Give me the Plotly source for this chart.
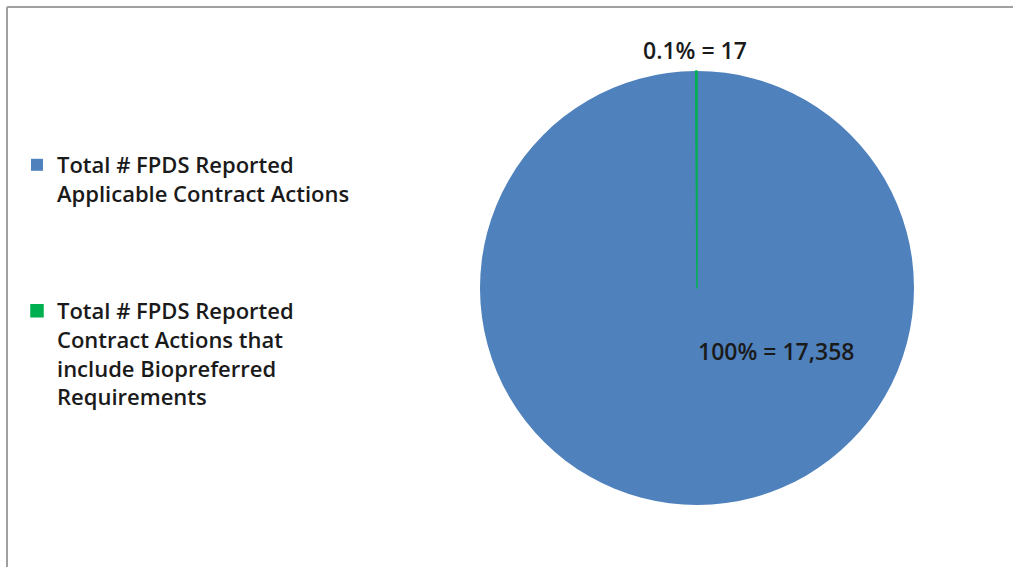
import plotly.graph_objects as go

labels = [
    "Total # FPDS Reported<br>Applicable Contract Actions",
    "Total # FPDS Reported<br>Contract Actions that<br>include Biopreferred<br>Requirements",
]
values = [17358, 17]
colors = ["#4F81BD", "#00B050"]
pct_decimals = [0, 1]

W, H = 1013, 567
FONT = "Open Sans"
TXT = "#1a1a1a"

total = sum(values)
label_texts = [
    f"{v / total * 100:.{d}f}% = {v:,}" for v, d in zip(values, pct_decimals)
]

# legend labels with trailing spacing lines for the first item
legend_labels = [labels[0] + "<br> <br> <br> ", labels[1]]

cx, cy, r = 697, 288, 217

fig = go.Figure(
    go.Pie(
        labels=legend_labels,
        values=values,
        sort=False,
        direction="clockwise",
        rotation=0,
        marker=dict(colors=colors, line=dict(color=colors, width=[0, 1.5])),
        textinfo="none",
        hoverinfo="label+value+percent",
        domain=dict(x=[(cx - r) / W, (cx + r) / W], y=[1 - (cy + r) / H, 1 - (cy - r) / H]),
    )
)

fig.add_annotation(
    x=776 / W, y=1 - 351 / H, xref="paper", yref="paper",
    xanchor="center", yanchor="middle",
    text=label_texts[0], showarrow=False,
    font=dict(family=FONT, size=23, color=TXT, weight=600),
)
fig.add_annotation(
    x=695 / W, y=1 - 50 / H, xref="paper", yref="paper",
    xanchor="center", yanchor="middle",
    text=label_texts[1], showarrow=False,
    font=dict(family=FONT, size=23, color=TXT, weight=600),
)

# chart frame (left and top edges visible)
fig.add_shape(type="line", xref="paper", yref="paper",
              x0=7 / W, x1=7 / W, y0=0, y1=1 - 7 / H,
              line=dict(color="#A0A0A0", width=2))
fig.add_shape(type="line", xref="paper", yref="paper",
              x0=7 / W, x1=1, y0=1 - 7 / H, y1=1 - 7 / H,
              line=dict(color="#A0A0A0", width=2))

fig.update_layout(
    width=W, height=H,
    margin=dict(l=0, r=0, t=0, b=0),
    paper_bgcolor="white",
    plot_bgcolor="white",
    showlegend=True,
    legend=dict(
        x=17 / W, y=1 - 144 / H, xanchor="left", yanchor="top",
        valign="top",
        font=dict(family=FONT, size=22, color=TXT, weight=600),
        bgcolor="rgba(0,0,0,0)",
        itemclick=False, itemdoubleclick=False,
    ),
)

fig.write_html("out.html")
